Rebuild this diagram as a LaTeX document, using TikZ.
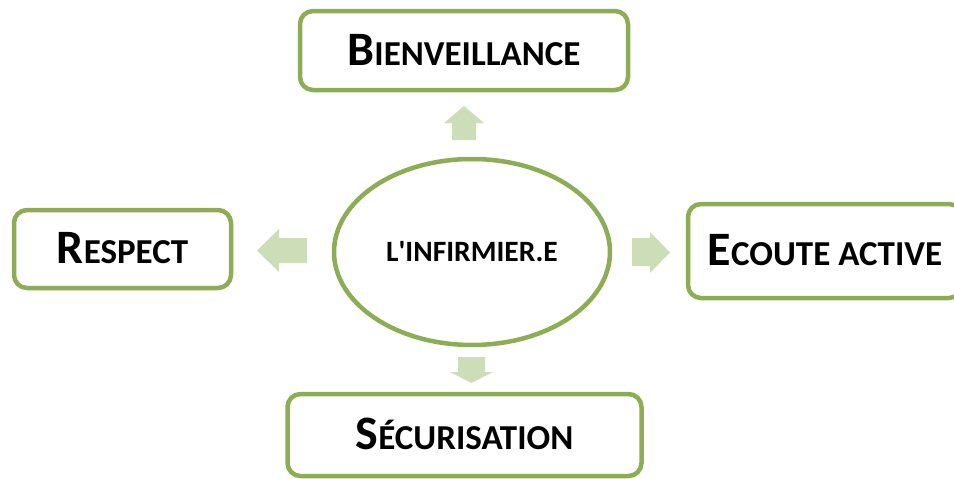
\documentclass[tikz,border=0pt]{standalone}
\usepackage{fontspec}
\setmainfont{Carlito}
\usetikzlibrary{shapes.geometric}
\definecolor{boxgreen}{RGB}{141,173,85}
\definecolor{arrowgreen}{RGB}{204,221,184}
\newcommand\bigsc[2]{{\fontsize{48}{50}\selectfont #1}{\fontsize{35}{37}\selectfont #2}}
\begin{document}
\begin{tikzpicture}[x=1pt,y=-1pt,
  idea/.style={draw=boxgreen,line width=4.5pt,rounded corners=13pt,fill=white,
    inner sep=0pt,text height=29pt,text depth=0pt,font=\bfseries},
  core/.style={draw=boxgreen,line width=4.5pt,ellipse,inner sep=0pt,
    minimum width=276pt,minimum height=186pt,text height=19pt,text depth=0pt,
    font=\bfseries\fontsize{29.5}{31}\selectfont},
  blockarrow/.style={fill=arrowgreen,draw=none}]
\useasboundingbox (0,0) rectangle (954,479);
\begin{scope}
\clip (0,0) rectangle (954,479);
\node[idea,minimum width=328pt,minimum height=79pt] (bien) at (464,50.5) {\bigsc{B}{IENVEILLANCE}};
\node[idea,minimum width=217pt,minimum height=78pt] (resp) at (122.5,249) {\bigsc{R}{ESPECT}};
\node[idea,minimum width=274pt,minimum height=94pt] (ecoute) at (825,251) {\bigsc{E}{COUTE ACTIVE}};
\node[idea,minimum width=354pt,minimum height=82pt] (secu) at (464.5,435) {\bigsc{S}{ÉCURISATION}};
\node[core] (inf) at (472,252) {L\textquotesingle INFIRMIER.E};
\end{scope}
% block arrows
\fill[blockarrow] (464,106) -- (484,123) -- (476,123) -- (476,140) -- (452,140) -- (452,123) -- (444,123) -- cycle;
\fill[blockarrow] (257,250.5) -- (279,229) -- (279,238) -- (307,238) -- (307,263) -- (279,263) -- (279,272) -- cycle;
\fill[blockarrow] (670,252.5) -- (650,232) -- (650,238) -- (632,238) -- (632,266) -- (650,266) -- (650,273) -- cycle;
\fill[blockarrow] (471.5,383) -- (450,372) -- (458,372) -- (458,357) -- (485,357) -- (485,372) -- (493,372) -- cycle;
\end{tikzpicture}
\end{document}
